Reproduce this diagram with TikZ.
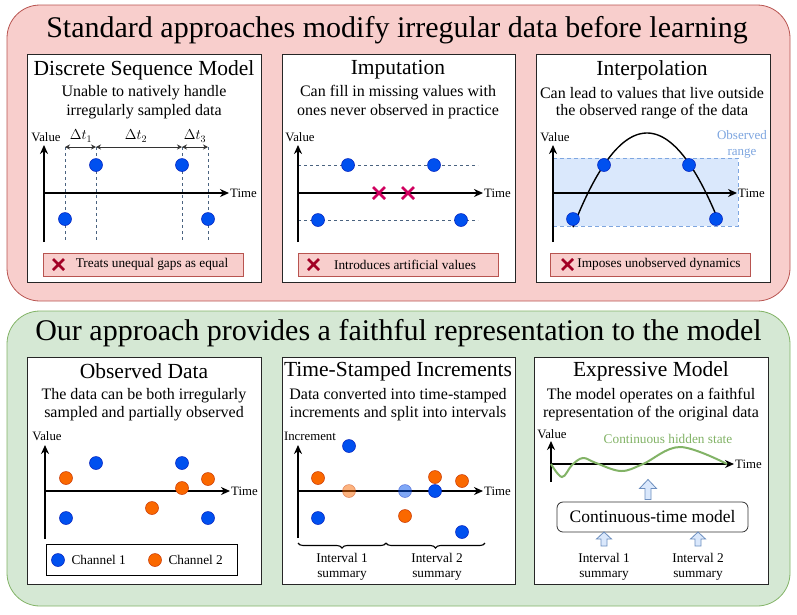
\documentclass[tikz,border=0pt]{standalone}
\usepackage{fontspec}
\setmainfont{Liberation Serif}
\usetikzlibrary{arrows.meta,decorations.pathreplacing}
\definecolor{pinkfill}{HTML}{F8CECC}
\definecolor{pinkline}{HTML}{B85450}
\definecolor{greenfill}{HTML}{D5E8D4}
\definecolor{greenline}{HTML}{82B366}
\definecolor{bluedot}{HTML}{0050EF}
\definecolor{bluedotline}{HTML}{001DBC}
\definecolor{orangedot}{HTML}{FA6800}
\definecolor{orangedotline}{HTML}{C73500}
\definecolor{rangefill}{HTML}{DAE8FC}
\definecolor{rangeline}{HTML}{7EA6E0}
\definecolor{arrline}{HTML}{6C8EBF}
\definecolor{crossred}{HTML}{A20025}
\definecolor{crossmag}{HTML}{D0005F}
\definecolor{dashcol}{HTML}{4A6380}
\tikzset{
  outerbox/.style={rounded corners=33pt, line width=0.8pt},
  panel/.style={draw=black!85, fill=white, line width=0.8pt},
  bigtitle/.style={font=\fontsize{30}{34}\selectfont},
  ptitle/.style={font=\fontsize{21.5}{25}\selectfont},
  psub/.style={font=\fontsize{16}{19}\selectfont},
  small/.style={font=\fontsize{13.3}{15.5}\selectfont},
  axlab/.style={font=\fontsize{12.8}{14}\selectfont},
  dotb/.style={circle, fill=bluedot, draw=bluedotline, line width=0.5pt, minimum size=13pt, inner sep=0pt},
  doto/.style={circle, fill=orangedot, draw=orangedotline, line width=0.5pt, minimum size=13pt, inner sep=0pt},
  axis/.style={line width=1.6pt, -{Stealth[length=9pt,width=8pt]}},
  redbox/.style={draw=pinkline, fill=pinkfill, line width=0.8pt},
  vdash/.style={dashcol, dash pattern=on 3pt off 3pt, line width=0.7pt},
  gap/.style={black!80, line width=0.8pt, {Stealth[length=5pt,width=5pt]}-{Stealth[length=5pt,width=5pt]}},
  crossline/.style={line width=2.8pt},
  blockarr/.style={draw=arrline, fill=rangefill, line width=0.8pt},
  bigup/.pic={\path[blockarr] (-3,0) -- (-3,-11) -- (-8.5,-11) -- (0,-20) -- (8.5,-11) -- (3,-11) -- (3,0) -- cycle;},
  smallup/.pic={\path[blockarr] (-3,0) -- (-3,-7) -- (-7.5,-7) -- (0,-14) -- (7.5,-7) -- (3,-7) -- (3,0) -- cycle;},
}
\begin{document}
\begin{tikzpicture}[x=1pt,y=-1pt]
\useasboundingbox (0,0) rectangle (797,614);
% ---------- outer boxes
\draw[outerbox, draw=pinkline, fill=pinkfill] (7,5) rectangle (790,301);
\node[bigtitle] (ttop) at (397,30) {Standard approaches modify irregular data before learning};
\draw[outerbox, draw=greenline, fill=greenfill] (7,311) rectangle (790,606);
\node[bigtitle] (tbot) at (398.5,333) {Our approach provides a faithful representation to the model};

% ---------- panels
\draw[panel] (27,54) rectangle (261,282);
\draw[panel] (282,54) rectangle (515,282);
\draw[panel] (536,54) rectangle (770,282);
\draw[panel] (27,357) rectangle (261,584);
\draw[panel] (282,357) rectangle (515,584);
\draw[panel] (534,357) rectangle (768,584);

% ================= Panel 1: Discrete Sequence Model
\node[ptitle] (p1t) at (144,70) {Discrete Sequence Model};
\node[psub] (p1s1) at (144,93) {Unable to natively handle};
\node[psub] (p1s2) at (144,112) {irregularly sampled data};
\coordinate (p1o) at (44,242);
\coordinate (p1top) at (44,145);
\coordinate (p1x0) at (44,193);
\coordinate (p1xe) at (229,193);
\foreach \n/\x in {a/65,b/96,c/182,d/208}{
  \coordinate (p1g\n) at (\x,147);
  \coordinate (p1h\n) at (\x,242);
  \draw[vdash] (p1g\n) -- (p1h\n);
}
\draw[axis] (p1o) -- (p1top);
\draw[axis] (p1x0) -- (p1xe);
\node[axlab, anchor=west, inner sep=1pt] (p1time) at (p1xe) {Time};
\node[axlab] (p1val) at (46,137) {Value};
\draw[gap] (p1ga) -- (p1gb);
\draw[gap] (p1gb) -- (p1gc);
\draw[gap] (p1gc) -- (p1gd);
\node[font=\fontsize{14.5}{15}\selectfont] (dt1) at (81,136) {$\Delta t_1$};
\node[font=\fontsize{14.5}{15}\selectfont] (dt2) at (136,136) {$\Delta t_2$};
\node[font=\fontsize{14.5}{15}\selectfont] (dt3) at (195,136) {$\Delta t_3$};
\node[dotb] (p1d1) at (65,219) {};
\node[dotb] (p1d2) at (96,165) {};
\node[dotb] (p1d3) at (182,165) {};
\node[dotb] (p1d4) at (208,219) {};
\draw[redbox] (43,253) rectangle (243,276);
\draw[crossline, crossred] (53,259) -- (64,270) (53,270) -- (64,259);
\node[small] (p1warn) at (152,264.5) {Treats unequal gaps as equal};

% ================= Panel 2: Imputation
\node[ptitle] (p2t) at (398,70) {Imputation};
\node[psub] (p2s1) at (398,93) {Can fill in missing values with};
\node[psub] (p2s2) at (398,112) {ones never observed in practice};
\coordinate (p2o) at (298,242);
\coordinate (p2top) at (298,145);
\coordinate (p2x0) at (298,193);
\coordinate (p2xe) at (483,193);
\coordinate (p2l1a) at (298,165); \coordinate (p2l1b) at (478,165);
\coordinate (p2l2a) at (298,220); \coordinate (p2l2b) at (478,220);
\draw[vdash] (p2l1a) -- (p2l1b);
\draw[vdash] (p2l2a) -- (p2l2b);
\draw[axis] (p2o) -- (p2top);
\draw[axis] (p2x0) -- (p2xe);
\node[axlab, anchor=west, inner sep=1pt] (p2time) at (p2xe) {Time};
\node[axlab] (p2val) at (300,137) {Value};
\node[dotb] (p2d1) at (348,165) {};
\node[dotb] (p2d2) at (434,165) {};
\node[dotb] (p2d3) at (318,220) {};
\node[dotb] (p2d4) at (461,220) {};
\draw[crossline, crossmag] (373,187) -- (385,199) (373,199) -- (385,187);
\draw[crossline, crossmag] (402,187) -- (414,199) (402,199) -- (414,187);
\draw[redbox] (298,253) rectangle (498,276);
\draw[crossline, crossred] (308,259) -- (319,270) (308,270) -- (319,259);
\node[small] (p2warn) at (405,264.5) {Introduces artificial values};

% ================= Panel 3: Interpolation
\node[ptitle] (p3t) at (652,70) {Interpolation};
\node[psub] (p3s1) at (652,93) {Can lead to values that live outside};
\node[psub] (p3s2) at (652,112) {the observed range of the data};
\fill[rangefill] (553,158) rectangle (738,226);
\draw[rangeline, dash pattern=on 4pt off 3pt, line width=0.7pt] (553,158) -- (738,158) -- (738,226) -- (553,226);
\node[font=\fontsize{13}{16}\selectfont, text=rangeline, align=center] (p3rng) at (742,144) {Observed\\range};
\coordinate (p3o) at (553,242);
\coordinate (p3top) at (553,145);
\coordinate (p3x0) at (553,193);
\coordinate (p3xe) at (737,193);
\draw[line width=1.4pt] plot[domain=573:716, samples=60] (\x,{133+0.0172*(\x-647)*(\x-647)});
\draw[axis] (p3o) -- (p3top);
\draw[axis] (p3x0) -- (p3xe);
\node[axlab, anchor=west, inner sep=1pt] (p3time) at (p3xe) {Time};
\node[axlab] (p3val) at (555,137) {Value};
\node[dotb] (p3d1) at (573,219) {};
\node[dotb] (p3d2) at (604,165) {};
\node[dotb] (p3d3) at (689,165) {};
\node[dotb] (p3d4) at (716,219) {};
\draw[redbox] (550,253) rectangle (750,276);
\draw[crossline, crossred] (562,259) -- (573,270) (562,270) -- (573,259);
\node[small] (p3warn) at (659,264.5) {Imposes unobserved dynamics};

% ================= Panel 4: Observed Data
\node[ptitle] (p4t) at (144,371) {Observed Data};
\node[psub] (p4s1) at (144,396) {The data can be both irregularly};
\node[psub] (p4s2) at (144,414) {sampled and partially observed};
\coordinate (p4o) at (45,539);
\coordinate (p4top) at (45,445);
\coordinate (p4x0) at (45,491);
\coordinate (p4xe) at (230,491);
\draw[axis] (p4o) -- (p4top);
\draw[axis] (p4x0) -- (p4xe);
\node[axlab, anchor=west, inner sep=1pt] (p4time) at (p4xe) {Time};
\node[axlab] (p4val) at (47,436) {Value};
\node[dotb] (p4b1) at (96,463) {};
\node[dotb] (p4b2) at (182,463) {};
\node[dotb] (p4b3) at (66,518) {};
\node[dotb] (p4b4) at (208,518) {};
\node[doto] (p4o1) at (66,478) {};
\node[doto] (p4o2) at (182,488) {};
\node[doto] (p4o3) at (208,479) {};
\node[doto] (p4o4) at (152,508) {};
\draw[black, fill=white, line width=0.8pt] (46,544) rectangle (237,575);
\node[dotb] (lg1) at (58,560) {};
\node[small, anchor=west] (lg1t) at (68,560) {Channel 1};
\node[doto] (lg2) at (155,560) {};
\node[small, anchor=west] (lg2t) at (165,560) {Channel 2};

% ================= Panel 5: Time-Stamped Increments
\node[ptitle] (p5t) at (398,371) {Time-Stamped Increments};
\node[psub] (p5s1) at (398,396) {Data converted into time-stamped};
\node[psub] (p5s2) at (398,414) {increments and split into intervals};
\coordinate (p5o) at (298,538);
\coordinate (p5top) at (298,445);
\coordinate (p5x0) at (298,491);
\coordinate (p5xe) at (483,491);
\draw[axis] (p5o) -- (p5top);
\draw[axis] (p5x0) -- (p5xe);
\node[axlab, anchor=west, inner sep=1pt] (p5time) at (p5xe) {Time};
\node[axlab] (p5val) at (310,436) {Increment};
\node[doto, opacity=0.5] (p5f1) at (349,491) {};
\node[dotb, opacity=0.5] (p5f2) at (405,491) {};
\node[dotb] (p5b1) at (349,446) {};
\node[dotb] (p5b2) at (318,518) {};
\node[dotb] (p5b3) at (435,491) {};
\node[dotb] (p5b4) at (462,532) {};
\node[doto] (p5o1) at (318,478) {};
\node[doto] (p5o2) at (435,477) {};
\node[doto] (p5o3) at (462,481) {};
\node[doto] (p5o4) at (405,516) {};
\coordinate (br1a) at (298,543);
\coordinate (br1b) at (386,543);
\coordinate (br2a) at (386,543);
\coordinate (br2b) at (485,543);
\draw[line width=1.1pt, decorate, decoration={brace, amplitude=5pt, mirror}] (br1a) -- (br1b);
\draw[line width=1.1pt, decorate, decoration={brace, amplitude=5pt, mirror}] (br2a) -- (br2b);
\node[small, align=center] (p5i1) at (342,567) {Interval 1\\summary};
\node[small, align=center] (p5i2) at (437,567) {Interval 2\\summary};

% ================= Panel 6: Expressive Model
\node[ptitle] (p6t) at (651,371) {Expressive Model};
\node[psub] (p6s1) at (651,396) {The model operates on a faithful};
\node[psub] (p6s2) at (651,414) {representation of the original data};
\coordinate (p6o) at (551,482);
\coordinate (p6top) at (551,441);
\coordinate (p6x0) at (551,464);
\coordinate (p6xe) at (734,464);
\draw[axis] (p6o) -- (p6top);
\draw[axis] (p6x0) -- (p6xe);
\node[axlab, anchor=west, inner sep=1pt] (p6time) at (p6xe) {Time};
\node[axlab] (p6val) at (552,434) {Value};
\draw[greenline, line width=2pt] plot[smooth, tension=0.6] coordinates {(551,464) (562,477) (572,465) (583,458) (596,463) (621,471) (643,464) (680,447) (727,464)};
\node[small, text=greenline] (p6hid) at (668,439) {Continuous hidden state};
\node[draw=black!80, fill=white, rounded corners=6pt, line width=0.8pt, minimum width=191pt, minimum height=30pt, font=\fontsize{17.5}{20}\selectfont] (ctm) at (652.5,517) {Continuous-time model};
\pic at (648,499.5) {bigup};
\pic at (604,546) {smallup};
\pic at (698,546) {smallup};
\node[small, align=center] (p6i1) at (604,567) {Interval 1\\summary};
\node[small, align=center] (p6i2) at (698,567) {Interval 2\\summary};
\end{tikzpicture}
\end{document}
